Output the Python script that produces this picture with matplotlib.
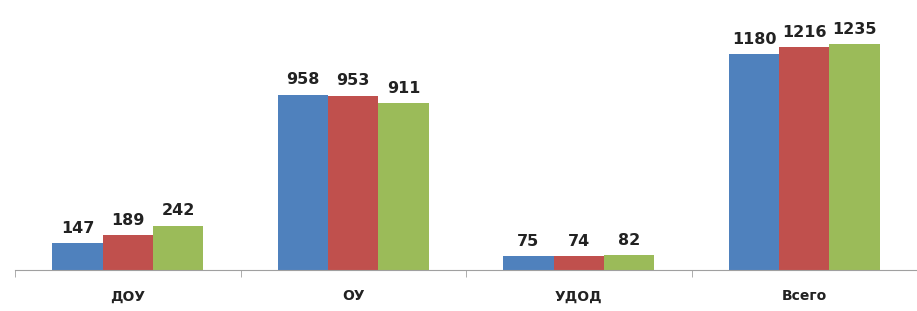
import numpy as np
import matplotlib
matplotlib.use('Agg')
import matplotlib.pyplot as plt

categories = ['ДОУ', 'ОУ', 'УДОД', 'Всего']
series_1 = [147, 958, 75, 1180]
series_2 = [189, 953, 74, 1216]
series_3 = [242, 911, 82, 1235]
colors = ['#4F81BD', '#C0504D', '#9BBB59']

fig = plt.figure(figsize=(9.17, 3.11), dpi=100)
ax = fig.add_axes([15 / 917, 1 - 270 / 311, 1 - 15 / 917, 270 / 311])

x = np.arange(len(categories))
w = 0.223
for i, vals in enumerate([series_1, series_2, series_3]):
    pos = x + (i - 1) * w
    ax.bar(pos, vals, width=w, color=colors[i], zorder=2)
    for p, v in zip(pos, vals):
        ax.text(p, v + 40, str(v), ha='center', va='bottom',
                fontsize=11.5, fontweight='bold', color='#222222')

ax.set_xlim(-0.5, len(categories) - 0.5)
ax.set_ylim(0, 1475)
for s in ['top', 'right', 'left']:
    ax.spines[s].set_visible(False)
ax.spines['bottom'].set_color('#a0a0a0')
ax.set_yticks([])
ax.set_xticks(np.arange(len(categories) + 1) - 0.5, minor=True)
ax.tick_params(axis='x', which='minor', length=5, color='#a0a0a0')
ax.set_xticks(x)
ax.set_xticklabels(categories, fontsize=10, fontweight='bold', color='#222222')
ax.tick_params(axis='x', which='major', length=0, pad=14)

fig.savefig('out.png', dpi=100)
